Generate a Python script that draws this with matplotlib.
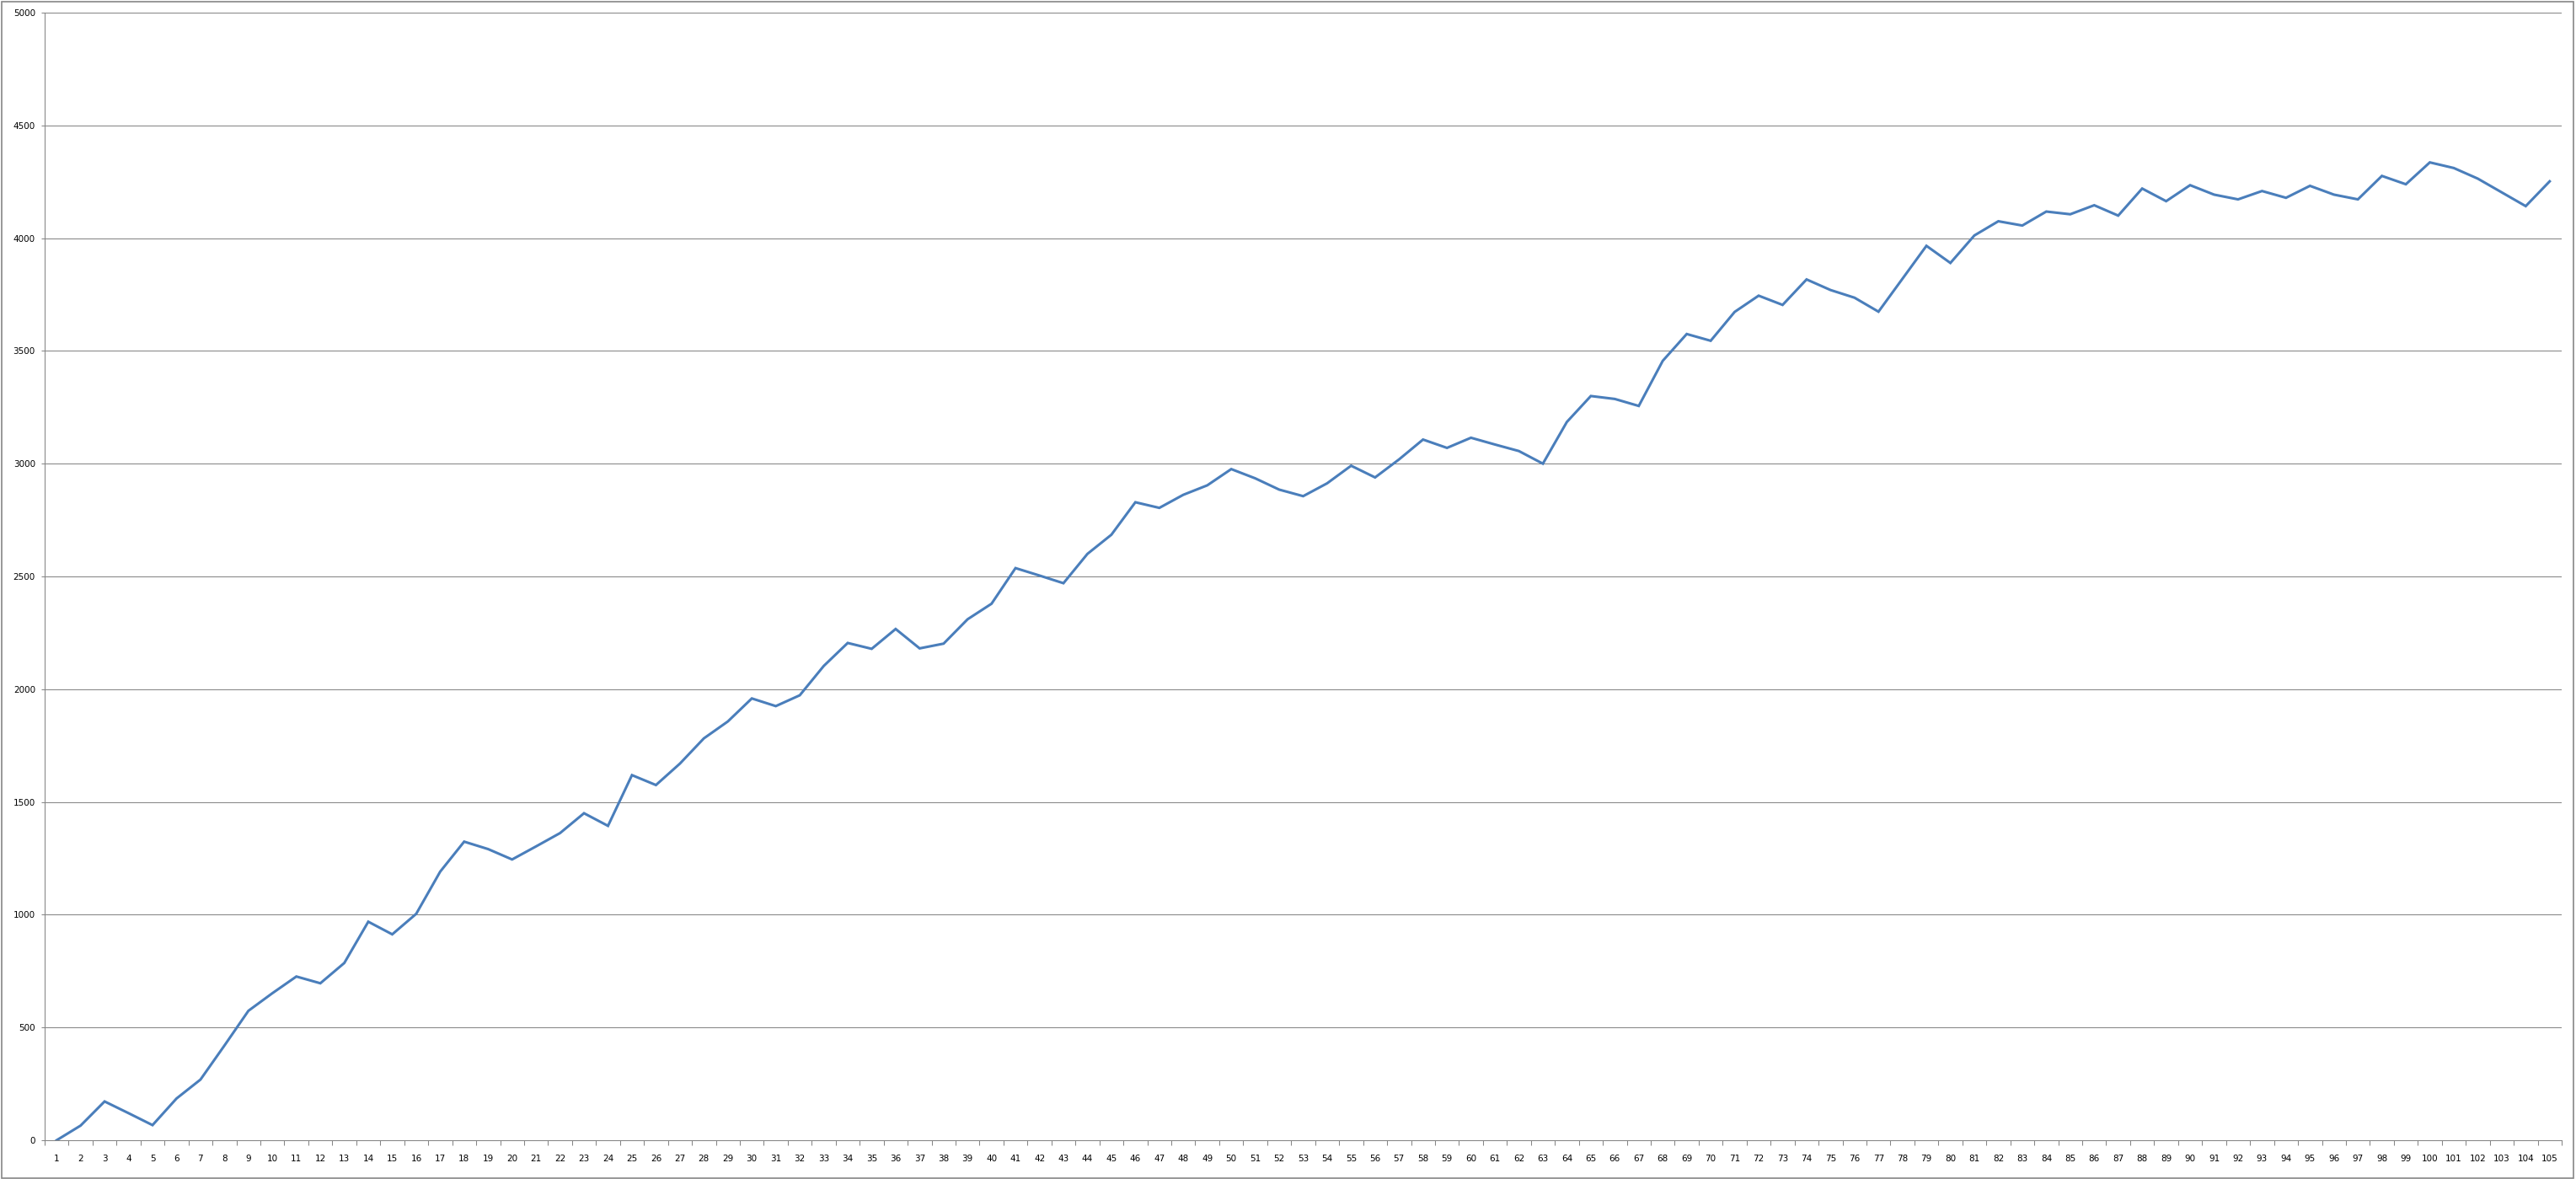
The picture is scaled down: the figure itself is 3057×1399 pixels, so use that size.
import matplotlib
matplotlib.use('Agg')
import matplotlib.pyplot as plt
from matplotlib.patches import Rectangle

# values, one per category 1..105
categories = list(range(1, 106))
values = [
    0, 65, 172, 120, 67, 185, 269, 420, 574, 652,
    726, 696, 786, 969, 913, 1004, 1191, 1324, 1291, 1245,
    1303, 1362, 1450, 1394, 1619, 1575, 1670, 1782, 1857, 1959,
    1925, 1973, 2103, 2205, 2179, 2267, 2181, 2202, 2310, 2379,
    2537, 2504, 2470, 2600, 2685, 2829, 2804, 2862, 2904, 2976,
    2935, 2885, 2856, 2913, 2991, 2939, 3019, 3107, 3070, 3115,
    3085, 3056, 3000, 3185, 3300, 3287, 3256, 3456, 3575, 3545,
    3673, 3745, 3704, 3817, 3770, 3736, 3674, 3820, 3966, 3890,
    4012, 4075, 4056, 4118, 4106, 4146, 4100, 4220, 4164, 4235,
    4193, 4172, 4209, 4179, 4232, 4193, 4172, 4276, 4239, 4336,
    4311, 4264, 4203, 4142, 4252,
]
y_ticks = list(range(0, 5001, 500))

W, H = 3057, 1399
fig = plt.figure(figsize=(W / 100, H / 100), dpi=100)
fig.patch.set_facecolor('white')

grey = '#868686'

# chart border around the whole picture
fig.patches.append(Rectangle((1.5 / W, 1.5 / H), 1 - 5 / W, 1 - 3 / H,
                             transform=fig.transFigure, fill=False,
                             edgecolor=grey, linewidth=1.2))

ax = fig.add_axes([53 / W, 46 / H, (3040 - 53) / W, (1353 - 15) / H])
ax.plot(categories, values, color='#4A7EBB', linewidth=2.2,
        solid_joinstyle='miter', zorder=3)

ax.set_xlim(0.5, len(categories) + 0.5)
ax.set_ylim(0, 5000)
ax.set_yticks(y_ticks)
ax.set_xticks(categories)
ax.set_xticks([c - 0.5 for c in categories] + [len(categories) + 0.5], minor=True)

ax.yaxis.grid(True, color=grey, linewidth=0.75)
ax.set_axisbelow(True)

for side in ['top', 'right']:
    ax.spines[side].set_visible(False)
for side in ['left', 'bottom']:
    ax.spines[side].set_color(grey)
    ax.spines[side].set_linewidth(0.75)

ax.tick_params(axis='x', which='major', length=0, pad=12, labelsize=7.5)
ax.tick_params(axis='x', which='minor', length=4, color=grey, width=0.75)
ax.tick_params(axis='y', length=3, color=grey, width=0.75, labelsize=7.5, pad=5)

fig.savefig('out.png', dpi=100)
plt.close(fig)
